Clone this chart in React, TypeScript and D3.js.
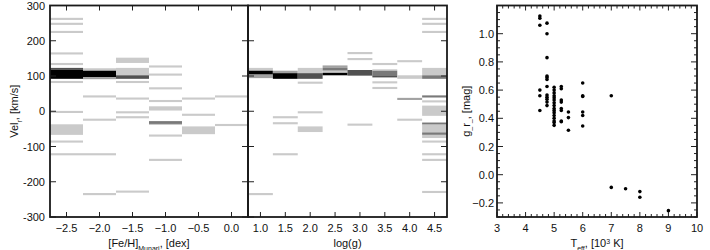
import React, { useEffect, useRef } from "react";
import * as d3 from "d3";

const velTicks = [-300, -200, -100, 0, 100, 200, 300];
const fehTicks = [-2.5, -2.0, -1.5, -1.0, -0.5, 0.0];
const loggTicks = [1.0, 1.5, 2.0, 2.5, 3.0, 3.5, 4.0, 4.5];
const teffTicks = [3, 4, 5, 6, 7, 8, 9, 10];
const grTicks = [-0.2, 0.0, 0.2, 0.4, 0.6, 0.8, 1.0];

// thin histogram cells: [bin centre, velocity, count]
const fehLines = [
  [-2.5, 262, 1], [-2.5, 248, 1], [-2.5, 225, 1], [-2.5, 164, 1], [-2.5, 134, 1],
  [-2.5, 83, 1], [-2.5, -2, 1], [-2.5, -86, 1], [-2.5, -122, 1],
  [-2.0, 42, 1], [-2.0, -24, 1], [-2.0, -122, 1], [-2.0, -235, 1],
  [-1.5, 83, 1], [-1.5, 36, 1], [-1.5, -3, 1], [-1.5, -17, 1], [-1.5, -228, 1],
  [-1.0, 127, 1], [-1.0, 104, 1], [-1.0, 65, 1], [-1.0, 29, 1], [-1.0, -69, 1], [-1.0, -138, 1],
  [-0.5, 36, 1], [-0.5, -10, 1],
  [0.0, 42, 1], [0.0, -39, 1],
];
// wider cells: [bin centre, vel low, vel high, count]
const fehBlocks = [
  [-2.5, 118, 123, 4], [-2.5, 92, 118, 6], [-2.5, -67, -37, 1],
  [-2.0, 115, 122, 1], [-2.0, 97, 115, 6], [-2.0, 91, 97, 2],
  [-1.5, 137, 152, 1], [-1.5, 102, 123, 1], [-1.5, 92, 102, 4],
  [-1.0, 2, 14, 1], [-1.0, -36, -28, 3], [-1.0, -39, -36, 1],
  [-0.5, -65, -43, 1],
];

const loggLines = [
  [1.0, -235, 1],
  [1.5, -17, 1], [1.5, -34, 1], [1.5, -122, 1],
  [2.0, 81, 1], [2.0, -3, 1],
  [3.0, 165, 1], [3.0, 148, 1], [3.0, -38, 1],
  [3.5, 134, 1], [3.5, 82, 1], [3.5, 66, 1],
  [4.0, 142, 1], [4.0, 35, 2], [4.0, -24, 1],
  [4.5, 262, 1], [4.5, 248, 1], [4.5, 225, 1], [4.5, 42, 3], [4.5, 28, 1],
  [4.5, -86, 1], [4.5, -122, 1], [4.5, -138, 1], [4.5, -229, 1],
];
const loggBlocks = [
  [1.0, 115, 123, 1], [1.0, 104, 115, 6], [1.0, 94, 104, 2],
  [1.5, 108, 115, 2], [1.5, 92, 108, 6],
  [2.0, 108, 123, 1], [2.0, 92, 108, 4], [2.0, -59, -43, 1],
  [2.5, 123, 130, 2], [2.5, 115, 123, 3], [2.5, 109, 115, 1], [2.5, 102, 109, 6],
  [3.0, 101, 117, 4],
  [3.5, 115, 119, 1], [3.5, 102, 115, 3], [3.5, 96, 102, 4],
  [4.0, 92, 102, 1],
  [4.5, 102, 123, 1], [4.5, 92, 102, 3], [4.5, -13, 16, 1], [4.5, -38, -32, 3],
  [4.5, -60, -38, 1], [4.5, -67, -60, 3], [4.5, -76, -67, 1],
];

const teff = [
  4.5, 4.5, 4.5, 4.5, 4.5, 4.5,
  4.75, 4.75, 4.75, 4.75, 4.75, 4.75, 4.75, 4.75, 4.75, 4.75, 4.75, 4.75,
  5.0, 5.0, 5.0, 5.0, 5.0, 5.0, 5.0, 5.0, 5.0, 5.0, 5.0, 5.0, 5.0, 5.0, 5.0, 5.0,
  5.25, 5.25, 5.25, 5.25, 5.25, 5.25, 5.25, 5.25,
  5.5, 5.5, 5.5,
  6.0, 6.0, 6.0, 6.0, 6.0, 6.0,
  7.0, 7.0, 7.5, 8.0, 8.0, 9.0,
];
const gr = [
  1.125, 1.11, 1.06, 0.6, 0.56, 0.455,
  1.075, 1.0, 0.83, 0.7, 0.69, 0.675, 0.625, 0.565, 0.55, 0.535, 0.515, 0.49,
  0.62, 0.6, 0.58, 0.56, 0.545, 0.53, 0.51, 0.49, 0.47, 0.455, 0.44, 0.42, 0.4, 0.38, 0.37, 0.35,
  0.625, 0.61, 0.53, 0.515, 0.47, 0.455, 0.38, 0.375,
  0.445, 0.405, 0.315,
  0.65, 0.56, 0.555, 0.445, 0.42, 0.345,
  0.56, -0.09, -0.1, -0.12, -0.16, -0.255,
];

const FONT = "'Liberation Sans', Arial, sans-serif";

export default function App() {
  const ref = useRef<SVGSVGElement>(null);

  useEffect(() => {
    const svg = d3.select(ref.current);
    svg.selectAll("*").remove();

    const top = 5.5, bottom = 217;
    const y = d3.scaleLinear().domain([-300, 300]).range([bottom, top]);
    const xFeh = d3.scaleLinear().domain([-2.75, 0.25]).range([50, 248]);
    const xLogg = d3.scaleLinear().domain([0.75, 4.75]).range([248, 447]);
    const shade = d3.scaleLinear<string>().domain([0, 1, 6]).range(["#ffffff", "#cacaca", "#000000"]);

    function hist(x: d3.ScaleLinear<number, number>, lines: number[][], blocks: number[][]) {
      const g = svg.append("g");
      const cells = lines.map(d => [d[0], d[1] - 3, d[1] + 3, d[2]]).concat(blocks);
      g.selectAll("rect")
        .data(cells)
        .enter()
        .append("rect")
        .attr("x", d => x(d[0] - 0.25))
        .attr("width", d => x(d[0] + 0.25) - x(d[0] - 0.25))
        .attr("y", d => y(d[2]))
        .attr("height", d => y(d[1]) - y(d[2]))
        .attr("fill", d => shade(d[3]));
    }
    hist(xFeh, fehLines, fehBlocks);
    hist(xLogg, loggLines, loggBlocks);

    // ticks, inward on every side
    function frame(x: d3.ScaleLinear<number, number>, yy: d3.ScaleLinear<number, number>,
      xt: number[], yt: number[], xMinor: number[], yMinor: number[]) {
      const g = svg.append("g").attr("stroke", "#222").attr("stroke-width", 1);
      const [x0, x1] = x.range();
      const [y0, y1] = yy.range();
      const tk = (vals: number[], len: number) => {
        vals.forEach(v => {
          g.append("line").attr("x1", x(v)).attr("x2", x(v)).attr("y1", y0).attr("y2", y0 - len);
          g.append("line").attr("x1", x(v)).attr("x2", x(v)).attr("y1", y1).attr("y2", y1 + len);
        });
      };
      const tky = (vals: number[], len: number) => {
        vals.forEach(v => {
          g.append("line").attr("y1", yy(v)).attr("y2", yy(v)).attr("x1", x0).attr("x2", x0 + len);
          g.append("line").attr("y1", yy(v)).attr("y2", yy(v)).attr("x1", x1).attr("x2", x1 - len);
        });
      };
      tk(xt, 5); tky(yt, 6); tk(xMinor, 3); tky(yMinor, 3);
      svg.append("rect")
        .attr("x", x0).attr("y", y1).attr("width", x1 - x0).attr("height", y0 - y1)
        .attr("fill", "none").attr("stroke", "#1a1a1a").attr("stroke-width", 1.8);
    }
    frame(xFeh, y, fehTicks, velTicks, [], []);
    frame(xLogg, y, loggTicks, velTicks, [], []);

    const xT = d3.scaleLinear().domain([3, 10]).range([497, 697]);
    const yG = d3.scaleLinear().domain([-0.3, 1.2]).range([bottom, top]);

    svg.append("g").selectAll("circle")
      .data(teff)
      .enter()
      .append("circle")
      .attr("cx", d => xT(d))
      .attr("cy", (d, i) => yG(gr[i]))
      .attr("r", 1.8)
      .attr("fill", "#000");

    const tMinor = d3.range(3, 10.01, 0.2).filter(v => Math.abs(v - Math.round(v)) > 0.01);
    const gMinor = d3.range(-0.3, 1.2, 0.05).filter(v => Math.abs(v * 5 - Math.round(v * 5)) > 0.01);
    frame(xT, yG, teffTicks, grTicks, tMinor, gMinor);

    // tick labels
    const lab = svg.append("g").attr("font-family", FONT).attr("font-size", 11).attr("fill", "#111");
    velTicks.forEach(v => lab.append("text").attr("x", 45).attr("y", y(v) + 4).attr("text-anchor", "end").text(v));
    fehTicks.forEach(v => lab.append("text").attr("x", xFeh(v)).attr("y", 232).attr("text-anchor", "middle").text(d3.format(".1f")(v)));
    loggTicks.forEach(v => lab.append("text").attr("x", xLogg(v)).attr("y", 232).attr("text-anchor", "middle").text(d3.format(".1f")(v)));
    teffTicks.forEach(v => lab.append("text").attr("x", xT(v)).attr("y", 232).attr("text-anchor", "middle").text(v));
    grTicks.forEach(v => lab.append("text").attr("x", 494).attr("y", yG(v) + 4).attr("text-anchor", "end").text(d3.format(".1f")(v)));

    // axis titles
    const t1 = lab.append("text").attr("x", xFeh(-1.25)).attr("y", 247).attr("text-anchor", "middle");
    t1.append("tspan").text("[Fe/H]");
    t1.append("tspan").attr("baseline-shift", "sub").attr("font-size", 7).text("Munari");
    t1.append("tspan").text(", [dex]");

    lab.append("text").attr("x", xLogg(2.75)).attr("y", 247).attr("text-anchor", "middle").text("log(g)");

    const t3 = lab.append("text").attr("x", xT(6.5)).attr("y", 247).attr("text-anchor", "middle");
    t3.append("tspan").text("T");
    t3.append("tspan").attr("baseline-shift", "sub").attr("font-size", 7).text("eff");
    t3.append("tspan").text(", [10");
    t3.append("tspan").attr("baseline-shift", "super").attr("font-size", 7).text("3");
    t3.append("tspan").text(" K]");

    const t4 = lab.append("text").attr("transform", "translate(18," + y(0) + ") rotate(-90)").attr("text-anchor", "middle");
    t4.append("tspan").text("Vel");
    t4.append("tspan").attr("baseline-shift", "sub").attr("font-size", 7).text("r");
    t4.append("tspan").text(", [km/s]");

    const t5 = lab.append("text").attr("transform", "translate(470," + (top + bottom) / 2 + ") rotate(-90)").attr("text-anchor", "middle");
    t5.append("tspan").text("g");
    t5.append("tspan").attr("baseline-shift", "sub").attr("font-size", 7).text("–");
    t5.append("tspan").text("r");
    t5.append("tspan").attr("baseline-shift", "sub").attr("font-size", 7).text("–");
    t5.append("tspan").text(", [mag]");
  }, []);

  return (
    <svg ref={ref} width={710} height={250}
      style={{ position: "absolute", left: 0, top: 0, background: "#fff" }} />
  );
}
